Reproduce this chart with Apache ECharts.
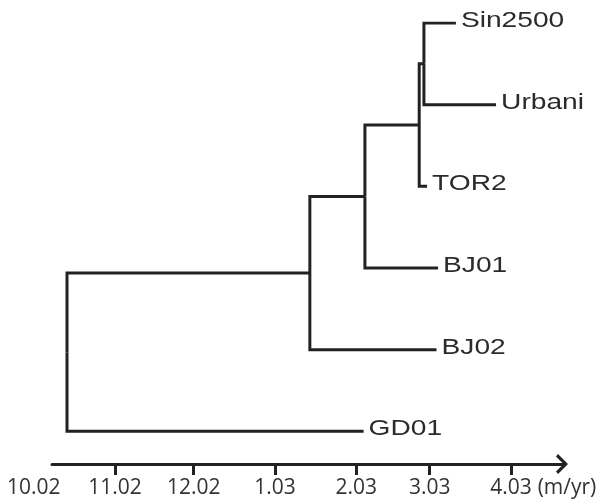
<!DOCTYPE html>
<html><head><meta charset="utf-8">
<script src="https://cdn.jsdelivr.net/npm/echarts@6/dist/echarts.min.js"></script>
<style>
html,body{margin:0;padding:0;background:#fff;}
#chart{width:601px;height:504px;}
</style></head><body><div id="chart"></div>
<script>
// x values are days since 2002-10-01
const tickLabels = ['10.02','11.02','12.02','1.03','2.03','3.03','4.03'];
const tickDays = [0, 31, 61, 92, 123, 151, 182];
const leafNames = ['Sin2500','Urbani','TOR2','BJ01','BJ02','GD01'];
const leafDays = [161.0, 176.3, 150.0, 154.2, 153.6, 125.8];
const nodeNames = ['root','n2','n3','n4','n5'];
const nodeDays = [12.7, 105.3, 126.3, 147.0, 148.8];
const nodeChildren = [['n2','GD01'],['n3','BJ02'],['n4','BJ01'],['n5','TOR2'],['Sin2500','Urbani']];

const pos = {};
leafNames.forEach((n,i)=>{ pos[n] = {x: leafDays[i], y: i}; });
function place(name){
  if (pos[name]) return pos[name];
  const i = nodeNames.indexOf(name);
  const ch = nodeChildren[i].map(place);
  pos[name] = {x: nodeDays[i], y: (ch[0].y + ch[1].y) / 2};
  return pos[name];
}
place('root');
const segs = [];
nodeNames.forEach((n,i)=>{
  const p = pos[n];
  nodeChildren[i].forEach(c=>{
    const q = pos[c];
    segs.push({coords: [[p.x, p.y], [p.x, q.y], [q.x, q.y]]});
  });
});

const chart = echarts.init(document.getElementById('chart'));
chart.setOption({
  animation: false,
  backgroundColor: '#fff',
  grid: [
    {left: 33.7, right: 42.8, top: 23, bottom: 40},
    {left: 52, right: 37, top: 23, bottom: 40}
  ],
  xAxis: [
    {gridIndex: 0, type: 'value', min: 0, max: 200,
     axisLine: {show: false, onZero: false},
     axisTick: {show: true, customValues: tickDays.slice(1), length: 11, lineStyle: {color: '#222', width: 3}},
     axisLabel: {customValues: tickDays, formatter: v => tickLabels[tickDays.indexOf(v)], margin: 14,
                 fontFamily: 'Open Sans', fontSize: 21, color: '#333'},
     splitLine: {show: false},
     name: '(m/yr)', nameLocation: 'end', nameGap: -22,
     nameTextStyle: {fontFamily: 'Open Sans', fontSize: 21, color: '#333', align: 'left', verticalAlign: 'top', padding: [14, 0, 0, 0]}
    },
    {gridIndex: 1, type: 'value', min: 0, max: 1,
     axisLine: {show: true, onZero: false,
                symbol: ['none', 'path://M0,10 L10,0 L20,10 L17.5,12 L10,4.5 L2.5,12 Z'],
                symbolSize: [20, 12], symbolOffset: [0, -2],
                lineStyle: {color: '#222', width: 3}},
     axisTick: {show: false}, axisLabel: {show: false}, splitLine: {show: false}
    }
  ],
  yAxis: [
    {gridIndex: 0, type: 'value', min: 0, max: 5.4, inverse: true, show: false},
    {gridIndex: 1, type: 'value', min: 0, max: 1, show: false}
  ],
  series: [
    {type: 'lines', coordinateSystem: 'cartesian2d', xAxisIndex: 0, yAxisIndex: 0, polyline: true, silent: true,
     data: segs,
     lineStyle: {color: '#222', width: 3, opacity: 1, curveness: 0, join: 'miter', cap: 'butt'}
    },
    {type: 'custom', coordinateSystem: 'cartesian2d', xAxisIndex: 0, yAxisIndex: 0, silent: true,
     data: leafNames.map((n,i)=>[leafDays[i], i]),
     renderItem: function (params, api) {
       const p = api.coord([api.value(0), api.value(1)]);
       return {
         type: 'text', x: p[0] + 5, y: p[1] - 2, scaleX: 1.28,
         style: {text: leafNames[params.dataIndex], fill: '#2b2b2b',
                 fontSize: 22, fontFamily: 'Liberation Sans',
                 align: 'left', verticalAlign: 'middle'}
       };
     }
    }
  ]
});
</script></body></html>
